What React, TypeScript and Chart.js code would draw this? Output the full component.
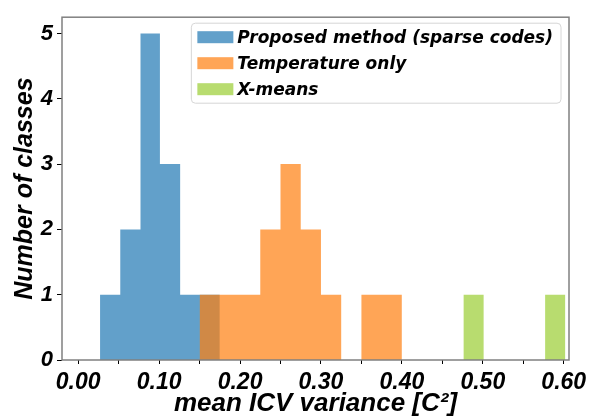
import React, { useEffect, useRef } from "react";
import { Chart, registerables } from "chart.js";

Chart.register(...registerables);

// Histogram bin edges and counts per method
const PROPOSED_EDGES = [0.027, 0.052, 0.077, 0.101, 0.126, 0.151, 0.175];
const PROPOSED_COUNTS = [1, 2, 5, 3, 1, 1];

const TEMPERATURE_EDGES = [0.15, 0.175, 0.2, 0.225, 0.25, 0.275, 0.3, 0.325, 0.35, 0.375, 0.4];
const TEMPERATURE_COUNTS = [1, 1, 1, 2, 3, 2, 1, 0, 1, 1];

const XMEANS_EDGES = [0.476, 0.501, 0.526, 0.551, 0.577, 0.602];
const XMEANS_COUNTS = [1, 0, 0, 0, 1];

const SERIES_LABELS = ["Proposed method (sparse codes)", "Temperature only", "X-means"];

const X_TICKS = [0, 0.05, 0.1, 0.15, 0.2, 0.25, 0.3, 0.35, 0.4, 0.45, 0.5, 0.55, 0.6];
const X_LABELED_TICKS = [0, 0.1, 0.2, 0.3, 0.4, 0.5, 0.6];
const Y_TICKS = [0, 1, 2, 3, 4, 5];

const FONT = "Liberation Sans, Arial, sans-serif";
const LEGEND_FONT = "DejaVu Sans, sans-serif";

// Outline of a histogram as a closed step polygon (corners at each bin edge)
function histogramOutline(edges: number[], counts: number[]) {
  const pts: { x: number; y: number }[] = [{ x: edges[0], y: 0 }];
  counts.forEach((c, i) => {
    pts.push({ x: edges[i], y: c });
    pts.push({ x: edges[i + 1], y: c });
  });
  pts.push({ x: edges[edges.length - 1], y: 0 });
  return pts;
}

// Gray frame around the plot area
const framePlugin = {
  id: "frame",
  afterDatasetsDraw(chart: any) {
    const { ctx, chartArea: a } = chart;
    ctx.save();
    ctx.strokeStyle = "#808080";
    ctx.lineWidth = 1.5;
    ctx.strokeRect(a.left, a.top, a.right - a.left, a.bottom - a.top);
    ctx.restore();
  },
};

// Legend box drawn in the upper right of the plot area
const insideLegendPlugin = {
  id: "insideLegend",
  afterDraw(chart: any) {
    const { ctx, chartArea: a } = chart;
    const ds = chart.data.datasets;
    ctx.save();
    ctx.font = `italic bold 17px ${LEGEND_FONT}`;
    const textW = Math.max(...ds.map((d: any) => ctx.measureText(d.label).width));
    const padL = 6, sw = 36, gap = 4, padR = 8, rowH = 26;
    const boxW = padL + sw + gap + textW + padR;
    const boxH = 80;
    const right = a.right - 8;
    const left = right - boxW;
    const top = a.top + 6;
    ctx.beginPath();
    ctx.roundRect(left, top, boxW, boxH, 4);
    ctx.fillStyle = "rgba(255,255,255,0.85)";
    ctx.fill();
    ctx.strokeStyle = "#d6d6d6";
    ctx.lineWidth = 1;
    ctx.stroke();
    ds.forEach((d: any, i: number) => {
      const cy = top + 14 + i * rowH;
      ctx.fillStyle = d.backgroundColor;
      ctx.fillRect(left + padL, cy - 6, sw, 12);
      ctx.fillStyle = "#000";
      ctx.textBaseline = "middle";
      ctx.textAlign = "left";
      ctx.fillText(d.label, left + padL + sw + gap, cy + 1);
    });
    ctx.restore();
  },
};

export default function App() {
  const canvasRef = useRef<HTMLCanvasElement | null>(null);

  useEffect(() => {
    if (!canvasRef.current) return;
    const make = (label: string, edges: number[], counts: number[], color: string, order: number) => ({
      label,
      data: histogramOutline(edges, counts),
      backgroundColor: color,
      borderWidth: 0,
      pointRadius: 0,
      tension: 0,
      fill: "origin",
      order,
    });
    const chart = new Chart(canvasRef.current, {
      type: "line",
      data: {
        datasets: [
          make(SERIES_LABELS[0], PROPOSED_EDGES, PROPOSED_COUNTS, "rgba(31,119,180,0.7)", 2),
          make(SERIES_LABELS[1], TEMPERATURE_EDGES, TEMPERATURE_COUNTS, "rgba(255,127,14,0.7)", 1),
          make(SERIES_LABELS[2], XMEANS_EDGES, XMEANS_COUNTS, "rgba(154,205,50,0.7)", 0),
        ] as any,
      },
      options: {
        animation: false,
        responsive: false,
        layout: { padding: { top: 6, right: 26, left: 0, bottom: 0 } },
        plugins: { legend: { display: false }, tooltip: { enabled: false } },
        scales: {
          x: {
            type: "linear",
            min: -0.02,
            max: 0.6065,
            afterFit: (s: any) => { s.height = 58; },
            afterBuildTicks: (s: any) => { s.ticks = X_TICKS.map((v) => ({ value: v })); },
            border: { display: false },
            grid: { drawOnChartArea: false, drawTicks: true, tickLength: 4, tickColor: "#000", tickWidth: 1 },
            ticks: {
              autoSkip: false,
              maxRotation: 0,
              padding: 5,
              color: "#000",
              font: { family: FONT, size: 23, style: "italic", weight: "bold" },
              callback: (v: any) =>
                X_LABELED_TICKS.some((t) => Math.abs(t - v) < 1e-9) ? Number(v).toFixed(2) : "",
            },
            title: {
              display: true,
              text: "mean ICV variance [C²]",
              color: "#000",
              padding: { top: 0, bottom: 1 },
              font: { family: FONT, size: 26, style: "italic", weight: "bold", lineHeight: 1 },
            },
          },
          y: {
            type: "linear",
            min: 0,
            max: 5.25,
            afterFit: (s: any) => { s.width = 62; },
            afterBuildTicks: (s: any) => { s.ticks = Y_TICKS.map((v) => ({ value: v })); },
            border: { display: false },
            grid: { drawOnChartArea: false, drawTicks: true, tickLength: 5, tickColor: "#000", tickWidth: 1 },
            ticks: {
              padding: 4,
              color: "#000",
              font: { family: FONT, size: 22, style: "italic", weight: "bold" },
              callback: (v: any) => String(v),
            },
            title: {
              display: true,
              text: "Number of classes",
              color: "#000",
              padding: { top: 10, bottom: 0 },
              font: { family: FONT, size: 25, style: "italic", weight: "bold" },
            },
          },
        },
      } as any,
      plugins: [framePlugin, insideLegendPlugin],
    });
    return () => chart.destroy();
  }, []);

  return (
    <div style={{ position: "absolute", left: 0, top: 0, width: 595, height: 418, background: "#fff" }}>
      <canvas ref={canvasRef} width={595} height={418} />
    </div>
  );
}
